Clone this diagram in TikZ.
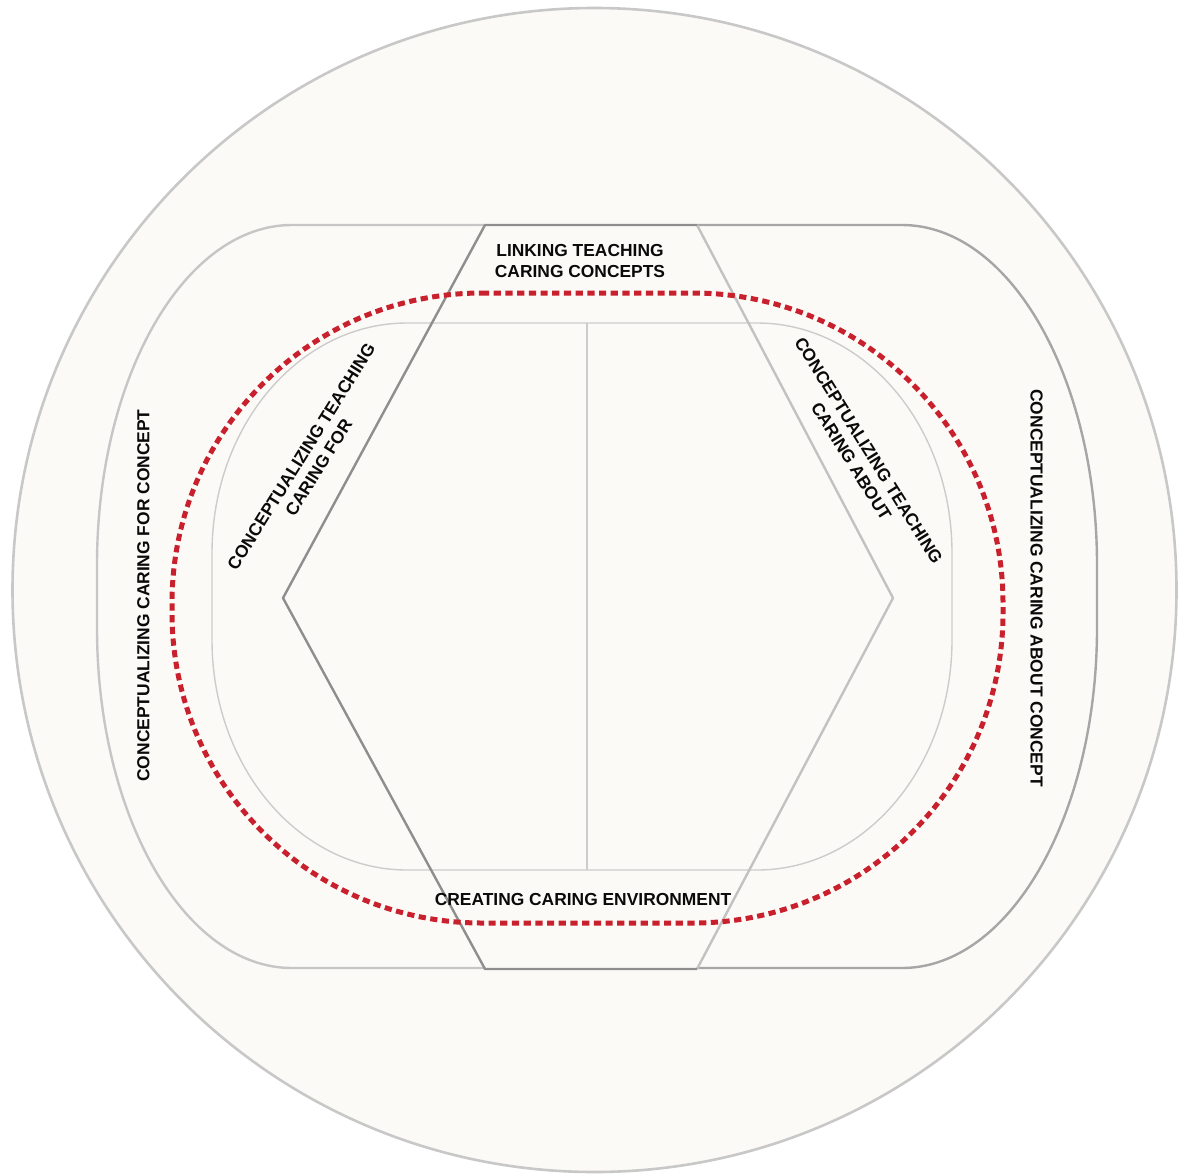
\documentclass[tikz,border=0pt]{standalone}
\usepackage{fontspec}
\setmainfont{Liberation Sans}
\definecolor{cream}{HTML}{FCFAF6}
\definecolor{ringgray}{HTML}{C8C8C8}
\definecolor{lightline}{HTML}{C6C6C6}
\definecolor{midline}{HTML}{A6A6A6}
\definecolor{darkline}{HTML}{8E8E8E}
\definecolor{hexlight}{HTML}{C2C2C2}
\definecolor{innergray}{HTML}{CCCCCC}
\definecolor{carered}{HTML}{C8202C}
\definecolor{ink}{HTML}{0A0A0A}
\begin{document}
\begin{tikzpicture}[x=1pt,y=-1pt,
  ring/.style={draw=ringgray, line width=2.6pt},
  outerleft/.style={draw=lightline, line width=2.4pt},
  outerright/.style={draw=midline, line width=2.4pt},
  hexdark/.style={draw=darkline, line width=2.4pt, line join=round},
  hexpale/.style={draw=hexlight, line width=2.4pt, line join=round},
  innerline/.style={draw=innergray, line width=1.4pt},
  careline/.style={draw=carered, line width=5pt, dash pattern=on 7.2pt off 4.5pt},
  label/.style={font=\fontsize{17.4}{20.5}\selectfont\bfseries, text=ink,
                inner sep=0pt, align=center}]
\useasboundingbox (0,0) rectangle (1182,1175);
\fill[white] (0,0) rectangle (1182,1175);

% outer disc
\draw[ring, fill=cream] (594.5,590) circle[radius=582];

% hexagon corners
\coordinate (hTL) at (485,225);
\coordinate (hTR) at (697,225);
\coordinate (hR)  at (893,598);
\coordinate (hBR) at (697,969);
\coordinate (hBL) at (485,969);
\coordinate (hL)  at (283,598);

% outer rounded frame, left half (pale) and right half (darker)
\draw[outerleft] (hTL) -- (292,225)
  .. controls (184.3,225) and (97,377.2) .. (97,565) -- (97,628)
  .. controls (97,815.8) and (184.3,968) .. (292,968) -- (485,968);
\draw[outerright] (hTR) -- (902,225)
  .. controls (1009.7,225) and (1097,377.2) .. (1097,565) -- (1097,628)
  .. controls (1097,815.8) and (1009.7,968) .. (902,968) -- (697,968);

% inner rounded frame and its divider
\draw[innerline] (407,323) -- (757,323)
  .. controls (864.7,323) and (952,426) .. (952,553) -- (952,640)
  .. controls (952,767) and (864.7,870) .. (757,870) -- (407,870)
  .. controls (299.3,870) and (212,767) .. (212,640) -- (212,553)
  .. controls (212,426) and (299.3,323) .. (407,323) -- cycle;
\coordinate (divtop) at (587,323);
\coordinate (divbot) at (587,870);
\draw[innerline] (divtop) -- (divbot);

% hexagon
\draw[hexpale] (hTR) -- (hR) -- (hBR);
\draw[hexdark] (hTR) -- (hTL) -- (hL) -- (hBL) -- (hBR);

% dotted caring boundary
\draw[careline] (482,293) -- (693,293)
  .. controls (864.2,293) and (1003,431.8) .. (1003,603) -- (1003,613)
  .. controls (1003,784.2) and (864.2,923) .. (693,923) -- (482,923)
  .. controls (310.8,923) and (172,784.2) .. (172,613) -- (172,603)
  .. controls (172,431.8) and (310.8,293) .. (482,293) -- cycle;

% labels
\node[label] (link) at (580,261) {LINKING TEACHING\\CARING CONCEPTS};
\node[label] (env) at (583,899) {CREATING CARING ENVIRONMENT};
\node[label, rotate=90] (cfor) at (143.5,595.5) {CONCEPTUALIZING CARING FOR CONCEPT};
\node[label, rotate=-90] (cabout) at (1036.5,588) {CONCEPTUALIZING CARING ABOUT CONCEPT};
\node[label, rotate=58] (tfor) at (310,462) {CONCEPTUALIZING TEACHING\\CARING FOR};
\node[label, rotate=-58] (tabout) at (860,456) {CONCEPTUALIZING TEACHING\\CARING ABOUT};
\end{tikzpicture}
\end{document}
